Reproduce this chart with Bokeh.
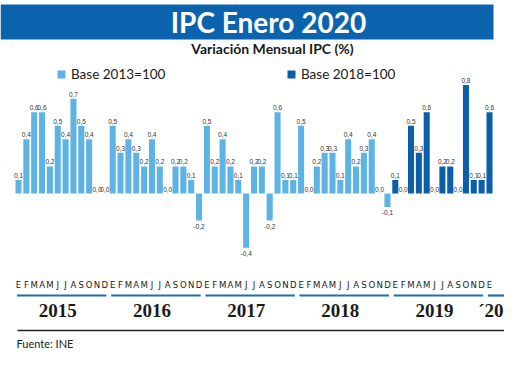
from bokeh.plotting import figure
from bokeh.models import ColumnDataSource, Label, BoxAnnotation, Legend, LegendItem
from bokeh.core.properties import value
from bokeh.embed import file_html
from bokeh.resources import INLINE

# ---------------- data ----------------
month_letters = ["E", "F", "M", "A", "M", "J", "J", "A", "S", "O", "N", "D"]
years = ["2015", "2016", "2017", "2018", "2019", "\u00b420"]
v2015 = [0.1, 0.4, 0.6, 0.6, 0.2, 0.5, 0.4, 0.7, 0.5, 0.4, 0.0, 0.0]
v2016 = [0.5, 0.3, 0.4, 0.3, 0.2, 0.4, 0.2, 0.0, 0.2, 0.2, 0.1, -0.2]
v2017 = [0.5, 0.2, 0.4, 0.2, 0.1, -0.4, 0.2, 0.2, -0.2, 0.6, 0.1, 0.1]
v2018 = [0.5, 0.0, 0.2, 0.3, 0.3, 0.1, 0.4, 0.2, 0.3, 0.4, 0.0, -0.1]
v2019 = [0.1, 0.0, 0.5, 0.3, 0.6, 0.0, 0.2, 0.2, 0.0, 0.8, 0.1, 0.1]
v2020 = [0.6]
series_names = ["Base 2013=100", "Base 2018=100"]
# number of months (from Jan 2015) measured on the 2013 base
n_base2013 = 48

values = v2015 + v2016 + v2017 + v2018 + v2019 + v2020
months = (month_letters * 6)[:len(values)]
idx = list(range(len(values)))

LIGHT = "#5cb3e4"
DARK = "#0a5fa8"
TITLE_BG = "#0c63ad"

W, H = 504, 353
PX_X = 7.85      # pixels per month
PX_Y = 135.5     # pixels per 1.0 %
x_start = -18 / PX_X
x_end = x_start + W / PX_X
y_end = 193 / PX_Y
y_start = y_end - H / PX_Y


def px_x(page_x):
    return x_start + (page_x - 8) / PX_X


def px_y(page_y):
    return y_end - (page_y - 8) / PX_Y


p = figure(width=W, height=H, x_range=(x_start, x_end), y_range=(y_start, y_end),
           x_axis_type=None, y_axis_type=None, toolbar_location=None,
           output_backend="svg", min_border=0, outline_line_color=None,
           background_fill_color="white", border_fill_color="white")
p.grid.visible = False

light = ColumnDataSource(dict(x=[i for i in idx if i < n_base2013],
                              top=[values[i] for i in idx if i < n_base2013]))
dark = ColumnDataSource(dict(x=[i for i in idx if i >= n_base2013],
                             top=[values[i] for i in idx if i >= n_base2013]))
r_light = p.vbar(x="x", top="top", bottom=0, width=0.77, source=light,
                 fill_color=LIGHT, line_color=None)
r_dark = p.vbar(x="x", top="top", bottom=0, width=0.77, source=dark,
                fill_color=DARK, line_color=None)

# value labels
lab_font = value("Liberation Sans")
narrow = value("DejaVu Sans Condensed")


def fmt(v):
    return f"{v:.1f}".replace(".", ",")


pos = ColumnDataSource(dict(x=[i for i in idx if values[i] >= 0],
                            y=[values[i] + 2 / PX_Y for i in idx if values[i] >= 0],
                            t=[fmt(values[i]) for i in idx if values[i] >= 0]))
neg = ColumnDataSource(dict(x=[i for i in idx if values[i] < 0],
                            y=[values[i] - 3 / PX_Y for i in idx if values[i] < 0],
                            t=[fmt(values[i]) for i in idx if values[i] < 0]))
p.text(x="x", y="y", text="t", source=pos, text_font=lab_font, text_font_size="6.5px",
       text_align="center", text_baseline="bottom", text_color="#333333")
p.text(x="x", y="y", text="t", source=neg, text_font=lab_font, text_font_size="6.5px",
       text_align="center", text_baseline="top", text_color="#333333")

# month letters
ms = ColumnDataSource(dict(x=idx, y=[px_y(292)] * len(idx), t=months))
p.text(x="x", y="y", text="t", source=ms, text_font=narrow, text_font_size="9.5px",
       text_align="center", text_baseline="middle", text_color="#222222")

# year underlines and year labels
seg_x0 = [12 * k - 0.2 for k in range(len(years))]
seg_x1 = [min(12 * k + 11.2, x_end - 0.05) for k in range(len(years))]
p.segment(x0=seg_x0, x1=seg_x1, y0=[px_y(303)] * len(years), y1=[px_y(303)] * len(years),
          line_color="#1f6fb3", line_width=2.2)
year_font = value("Liberation Serif")
p.text(x=[12 * k + 5.0 for k in range(len(years) - 1)], y=[px_y(318)] * (len(years) - 1),
       text=years[:-1], text_font=year_font, text_font_style="bold", text_font_size="19px",
       text_align="center", text_baseline="middle", text_color="#1a1a1a")
p.text(x=[x_end], y=[px_y(318)], text=years[-1:], text_font=year_font,
       text_font_style="bold", text_font_size="19px", x_offset=-1,
       text_align="right", text_baseline="middle", text_color="#1a1a1a")

# bottom rule and source
p.segment(x0=[px_x(25)], x1=[px_x(516)], y0=[px_y(338)], y1=[px_y(338)],
          line_color="#222222", line_width=1.5)
p.add_layout(Label(x=px_x(24), y=px_y(351), text="Fuente: INE", text_font="Lato",
                   text_font_size="11px", text_baseline="middle", text_color="#222222"))

# title bar
p.add_layout(BoxAnnotation(left=x_start, right=px_x(501), top=px_y(12), bottom=px_y(47),
                           fill_color=TITLE_BG, fill_alpha=1, line_color=None, level="underlay"))
p.add_layout(Label(x=px_x(276), y=px_y(29.5), text="IPC Enero 2020", text_font="Lato",
                   text_font_style="bold", text_font_size="28px", text_color="white",
                   text_align="center", text_baseline="middle"))
p.add_layout(Label(x=px_x(280), y=px_y(55.5), text="Variaci\u00f3n Mensual IPC (%)", text_font="Lato",
                   text_font_style="bold", text_font_size="14px", text_color="#1a1a1a",
                   text_align="center", text_baseline="middle"))

# legends
for r, name, lx in [(r_light, series_names[0], 56), (r_dark, series_names[1], 286)]:
    lg = Legend(items=[LegendItem(label=name, renderers=[r])], location=(lx, 353 - 82),
                orientation="horizontal", glyph_width=10, glyph_height=10,
                label_standoff=5, padding=0, margin=0, border_line_alpha=0,
                background_fill_alpha=0, label_text_font="Lato",
                label_text_font_size="13.5px", label_text_color="#1a1a1a",
                label_height=12)
    p.add_layout(lg)

open("out.html", "w").write(file_html(p, INLINE))
